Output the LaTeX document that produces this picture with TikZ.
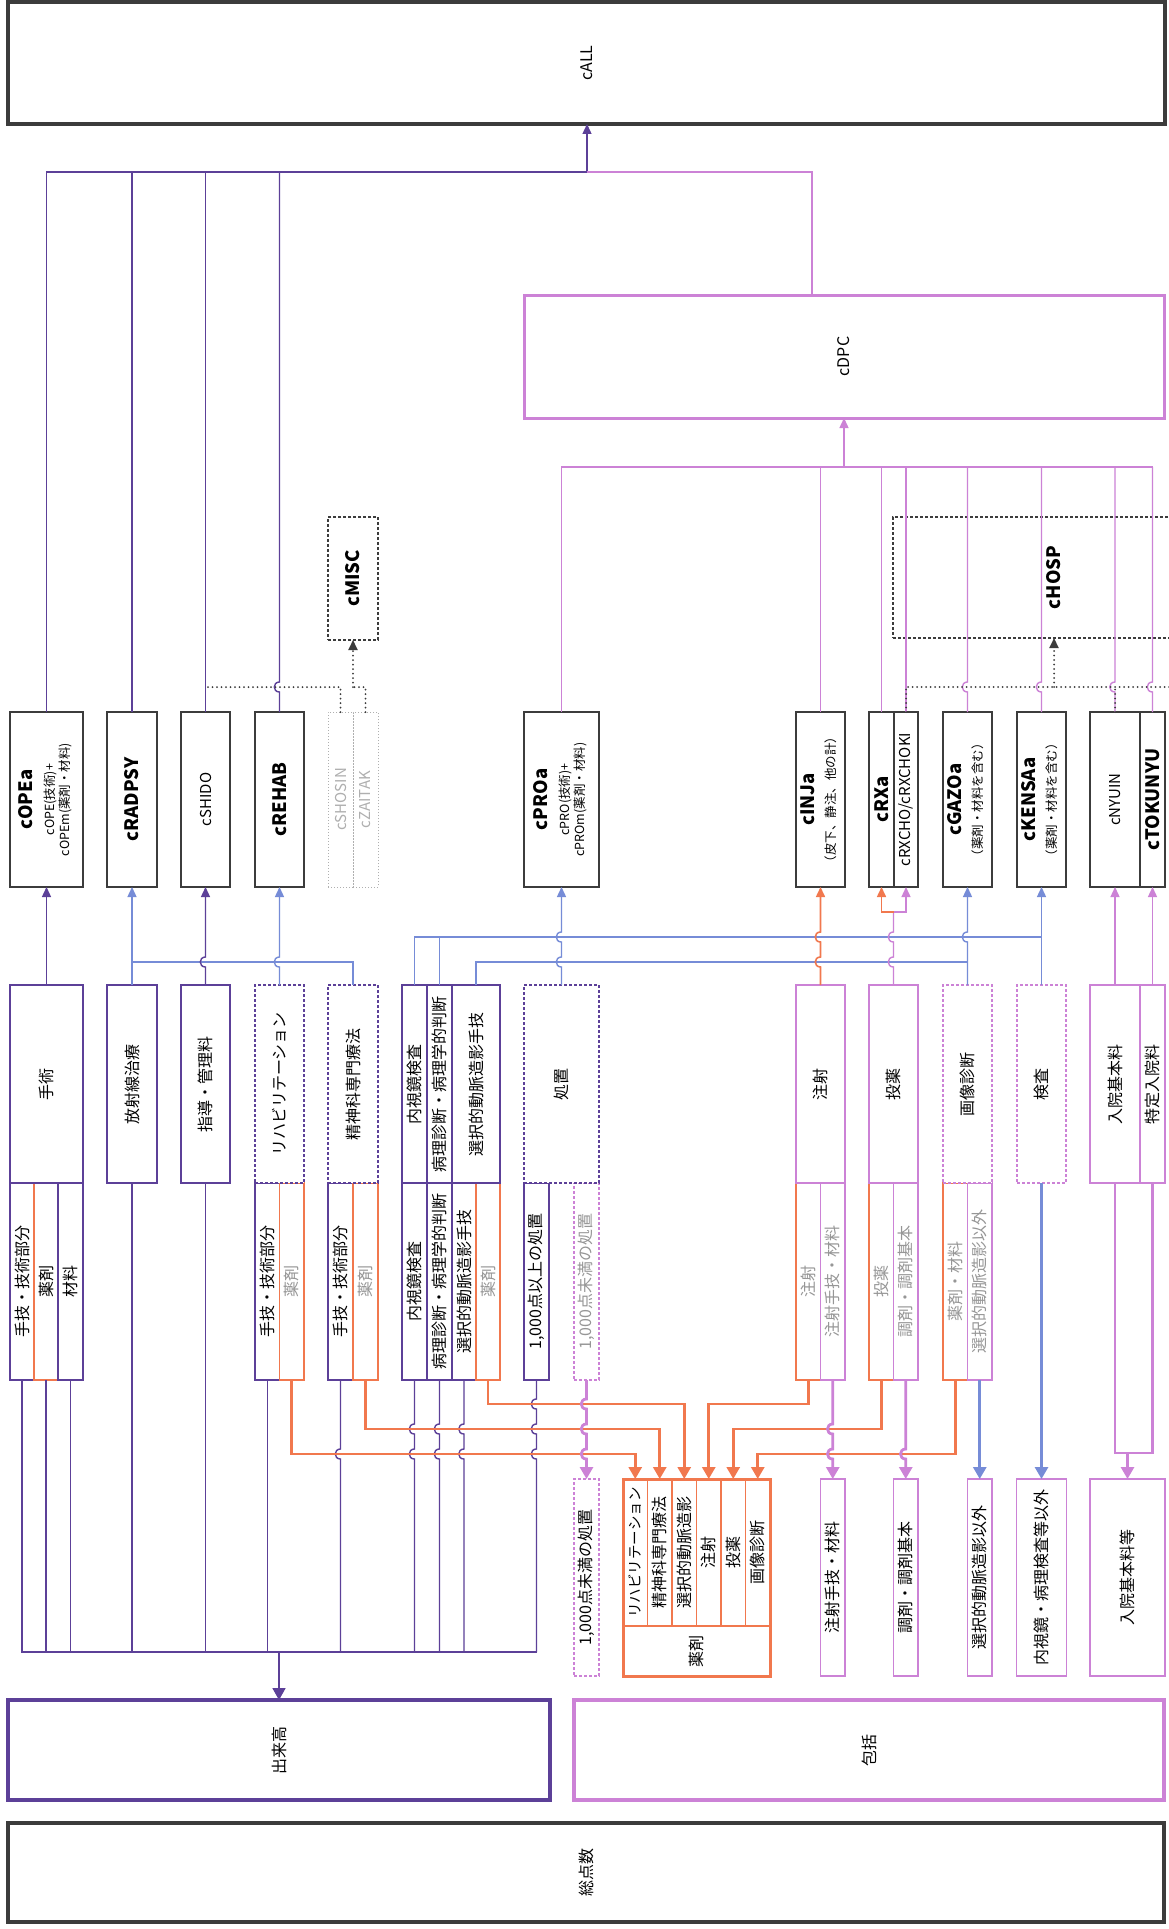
\documentclass[tikz,border=0pt]{standalone}
\usepackage{fontspec}
\setmainfont{Noto Sans CJK JP}
\usepackage{graphicx}
\usetikzlibrary{arrows.meta, positioning}

\definecolor{purp}{RGB}{92,64,152}
\definecolor{bluec}{RGB}{118,140,215}
\definecolor{pinkc}{RGB}{204,130,214}
\definecolor{orangec}{RGB}{241,120,78}
\definecolor{darkc}{RGB}{60,60,60}
\definecolor{greytxt}{RGB}{150,150,150}
\definecolor{dotgrey}{RGB}{175,175,175}

\newcommand\fbig{\fontsize{18.5}{21}\selectfont\bfseries}
\newcommand\fname{\fontsize{15}{18}\selectfont}
\newcommand\fnorm{\fontsize{16}{19}\selectfont}
\newcommand\fsmall{\fontsize{12.5}{14.5}\selectfont}
\newcommand\vtext[1]{\rotatebox{90}{#1}}
\newcommand\vstack[1]{\rotatebox{90}{\begin{tabular}{@{}c@{}}#1\end{tabular}}}
% hops of a vertical line over a horizontal one
\newcommand\hopup[2]{-- ({#1},{#2+5}) .. controls ({#1-7},{#2+5}) and ({#1-7},{#2-5}) .. ({#1},{#2-5})}
\newcommand\hopdn[2]{-- ({#1},{#2-5}) .. controls ({#1-7},{#2-5}) and ({#1-7},{#2+5}) .. ({#1},{#2+5})}

\tikzset{
  every node/.style={inner sep=0pt, outer sep=0pt},
  sz/.style 2 args={minimum width=#1pt, minimum height=#2pt},
  cbold/.style={draw=darkc, line width=2pt, fill=white, font=\fname},
  cthin/.style={draw=darkc, line width=1.1pt, fill=white, font=\fname},
  cdot/.style={draw=dotgrey, dotted, line width=1pt, text=dotgrey, font=\fname},
  cdash/.style={draw=darkc, dash pattern=on 3pt off 2pt, line width=1.5pt, font=\fbig},
  pbox/.style={draw=purp, line width=1.4pt, fill=white, font=\fnorm},
  pdash/.style={pbox, dash pattern=on 3pt off 2pt},
  kbox/.style={draw=pinkc, line width=1.4pt, fill=white, font=\fnorm},
  kdash/.style={kbox, dash pattern=on 3pt off 2pt},
  obox/.style={draw=orangec, line width=1.4pt, fill=white, font=\fnorm},
  greytext/.style={text=greytxt},
  bigbox/.style={line width=3.5pt, fill=white, font=\fnorm},
  pline/.style={draw=purp, line width=1.4pt},
  bline/.style={draw=bluec, line width=1.4pt},
  kline/.style={draw=pinkc, line width=1.4pt},
  othin/.style={draw=orangec, line width=1.6pt},
  oline/.style={draw=orangec, line width=2.8pt},
  kthick/.style={draw=pinkc, line width=2.8pt},
  bthick/.style={draw=bluec, line width=2.8pt},
  dline/.style={draw=darkc, line width=2pt, line cap=round, dash pattern=on 0pt off 4.5pt},
  arr/.style={-{Triangle[length=10pt, width=9pt]}},
  bigarr/.style={-{Triangle[length=12pt, width=13pt]}}
}

\begin{document}
\begin{tikzpicture}[x=1pt, y=-1pt]
\path[use as bounding box, fill=white] (0,0) rectangle (1169,1929);

% top totals
\node[bigbox, draw=darkc, sz={1157}{122}] (cALL) at (586.5,63) {\vtext{cALL}};
\node[bigbox, draw=pinkc, line width=3pt, sz={640}{123}] (cDPC) at (844,356.5) {\vtext{cDPC}};

% groups
\node[cdash, sz={50}{123}] (cMISC) at (353,578.5) {\vtext{cMISC}};
\node[cdash, sz={322}{121}] (cHOSP) at (1054,577.5) {\vtext{cHOSP}};

% variables
\node[cbold, sz={73}{175}] (cOPEa) at (46.5,799.5) {\vstack{{\fbig cOPEa}\\[4pt]{\fsmall cOPE(技術)+}\\[-3pt]{\fsmall cOPEm(薬剤・材料)}}};
\node[cbold, sz={50}{175}] (cRADPSY) at (132,799.5) {\vtext{\fbig cRADPSY}};
\node[cthin, sz={49}{175}] (cSHIDO) at (205.5,799.5) {\vtext{cSHIDO}};
\node[cbold, sz={49}{175}] (cREHAB) at (279.5,799.5) {\vtext{\fbig cREHAB}};
\node[cdot, sz={25}{175}] (cSHOSIN) at (340.5,799.5) {\vtext{cSHOSIN}};
\node[cdot, sz={25}{175}] (cZAITAK) at (365.5,799.5) {\vtext{cZAITAK}};
\node[cbold, sz={75}{175}] (cPROa) at (561.5,799.5) {\vstack{{\fbig cPROa}\\[4pt]{\fsmall cPRO(技術)+}\\[-3pt]{\fsmall cPROm(薬剤・材料)}}};
\node[cbold, sz={49}{175}] (cINJa) at (820.5,799.5) {\vstack{{\fbig cINJa}\\[3pt]{\fsmall （皮下、静注、他の計）}}};
\node[cbold, sz={25}{175}] (cRXa) at (881.5,799.5) {\vtext{\fbig cRXa}};
\node[cthin, sz={24}{175}] (cRXCHO) at (906,799.5) {\vtext{cRXCHO/cRXCHOKI}};
\node[cbold, sz={49}{175}] (cGAZOa) at (967.5,799.5) {\vstack{{\fbig cGAZOa}\\[3pt]{\fsmall （薬剤・材料を含む）}}};
\node[cbold, sz={49}{175}] (cKENSAa) at (1041.5,799.5) {\vstack{{\fbig cKENSAa}\\[3pt]{\fsmall （薬剤・材料を含む）}}};
\node[cthin, sz={50}{175}] (cNYUIN) at (1115,799.5) {\vtext{cNYUIN}};
\node[cbold, sz={25}{175}] (cTOKUNYU) at (1152.5,799.5) {\vtext{\fbig cTOKUNYU}};

% lower split cells
\node[pbox, sz={24}{197}] (opeGi) at (22,1281.5) {\vtext{手技・技術部分}};
\node[obox, sz={24}{197}] (opeYaku) at (46,1281.5) {\vtext{薬剤}};
\node[pbox, sz={25}{197}] (opeZai) at (70.5,1281.5) {\vtext{材料}};
\node[pbox, sz={24.5}{197}] (rehaGi) at (267.25,1281.5) {\vtext{手技・技術部分}};
\node[obox, greytext, sz={24.5}{197}] (rehaYaku) at (291.75,1281.5) {\vtext{薬剤}};
\node[pbox, sz={25}{197}] (seiGi) at (340.5,1281.5) {\vtext{手技・技術部分}};
\node[obox, greytext, sz={25}{197}] (seiYaku) at (365.5,1281.5) {\vtext{薬剤}};
\node[pbox, sz={25}{197}] (naiKen) at (414.5,1281.5) {\vtext{内視鏡検査}};
\node[pbox, sz={25}{197}] (naiByo) at (439.5,1281.5) {\vtext{病理診断・病理学的判断}};
\node[pbox, sz={24}{197}] (naiSen) at (464,1281.5) {\vtext{選択的動脈造影手技}};
\node[obox, greytext, sz={24}{197}] (naiYaku) at (488,1281.5) {\vtext{薬剤}};
\node[pbox, sz={25}{197}] (sho1000) at (536.5,1281.5) {\vtext{1,000点以上の処置}};
\node[kdash, greytext, sz={25}{197}] (shoLess) at (586.5,1281.5) {\vtext{1,000点未満の処置}};
\node[obox, greytext, sz={24.5}{197}] (chuYaku) at (808.25,1281.5) {\vtext{注射}};
\node[kbox, greytext, sz={24.5}{197}] (chuGi) at (832.75,1281.5) {\vtext{注射手技・材料}};
\node[obox, greytext, sz={24.5}{197}] (toYaku) at (881.25,1281.5) {\vtext{投薬}};
\node[kbox, greytext, sz={24.5}{197}] (toCho) at (905.75,1281.5) {\vtext{調剤・調剤基本}};
\node[obox, greytext, sz={24.5}{197}] (gaYaku) at (955.25,1281.5) {\vtext{薬剤・材料}};
\node[kbox, greytext, sz={24.5}{197}] (gaSen) at (979.75,1281.5) {\vtext{選択的動脈造影以外}};

% claim items
\node[pbox, sz={73}{198}] (shujutsu) at (46.5,1084) {\vtext{手術}};
\node[pbox, sz={50}{198}] (hoshasen) at (132,1084) {\vtext{放射線治療}};
\node[pbox, sz={49}{198}] (shido) at (205.5,1084) {\vtext{指導・管理料}};
\node[pdash, sz={49}{198}] (rihabiri) at (279.5,1084) {\vtext{リハビリテーション}};
\node[pdash, sz={50}{198}] (seishin) at (353,1084) {\vtext{精神科専門療法}};
\node[pbox, sz={25}{198}] (naishikyo) at (414.5,1084) {\vtext{内視鏡検査}};
\node[pbox, sz={25}{198}] (byori) at (439.5,1084) {\vtext{病理診断・病理学的判断}};
\node[pbox, sz={48}{198}] (sentaku) at (476,1084) {\vtext{選択的動脈造影手技}};
\node[pdash, sz={75}{198}] (shochi) at (561.5,1084) {\vtext{処置}};
\node[kbox, sz={49}{198}] (chusha) at (820.5,1084) {\vtext{注射}};
\node[kbox, sz={49}{198}] (toyaku) at (893.5,1084) {\vtext{投薬}};
\node[kdash, sz={49}{198}] (gazo) at (967.5,1084) {\vtext{画像診断}};
\node[kdash, sz={49}{198}] (kensa) at (1041.5,1084) {\vtext{検査}};
\node[kbox, sz={50}{198}] (nyuin) at (1115,1084) {\vtext{入院基本料}};
\node[kbox, sz={25}{198}] (tokutei) at (1152.5,1084) {\vtext{特定入院料}};

% bottom row
\node[kdash, sz={25}{197}] (bShochi) at (586.5,1577.5) {\vtext{1,000点未満の処置}};
\node[obox, sz={24.5}{147}] (yReha) at (635.25,1552.5) {\vtext{\fontsize{14.5}{17}\selectfont リハビリテーション}};
\node[obox, sz={24.5}{147}] (ySeishin) at (659.75,1552.5) {\vtext{精神科専門療法}};
\node[obox, sz={24.5}{147}] (ySentaku) at (684.25,1552.5) {\vtext{選択的動脈造影}};
\node[obox, sz={24.5}{147}] (yChusha) at (708.75,1552.5) {\vtext{注射}};
\node[obox, sz={24.5}{147}] (yToyaku) at (733.25,1552.5) {\vtext{投薬}};
\node[obox, sz={24.5}{147}] (yGazo) at (757.75,1552.5) {\vtext{画像診断}};
\node[obox, sz={147}{50}] (yYaku) at (696.5,1651) {\vtext{薬剤}};
\draw[orangec, line width=3pt] (yReha.north west) rectangle (yYaku.south east);
\node[kbox, sz={24.5}{197}] (bChuGi) at (832.75,1577.5) {\vtext{注射手技・材料}};
\node[kbox, sz={24.5}{197}] (bCho) at (905.75,1577.5) {\vtext{調剤・調剤基本}};
\node[kbox, sz={24.5}{197}] (bSen) at (979.75,1577.5) {\vtext{選択的動脈造影以外}};
\node[kbox, sz={50}{197}] (bKen) at (1041.5,1577.5) {\vtext{内視鏡・病理検査等以外}};
\node[kbox, sz={75}{197}] (bNyuin) at (1127.5,1577.5) {\vtext{入院基本料等}};

% bottom totals
\node[bigbox, draw=purp, line width=4pt, sz={542}{100}] (dekidaka) at (279,1750) {\vtext{出来高}};
\node[bigbox, draw=pinkc, line width=3.5pt, sz={590}{100}] (hokatsu) at (869,1750) {\vtext{包括}};
\node[bigbox, draw=darkc, sz={1156}{99}] (soten) at (586,1872.5) {\vtext{総点数}};

% junctions
\coordinate (topj) at (587,172);
\coordinate (dpcj) at (844,467);
\coordinate (miscj) at (353,687);
\coordinate (hospj) at (1054,687);
\coordinate (rxj) at (893.5,912);
\coordinate (dekij) at (279,1652);

% into cALL
\draw[pline] (cOPEa.north) |- (topj);
\draw[pline] (cRADPSY.north) -- (cRADPSY.north |- topj);
\draw[pline] (cSHIDO.north) -- (cSHIDO.north |- topj);
\draw[pline] (cREHAB.north) \hopup{279.5}{687} -- (cREHAB.north |- topj);
\draw[pline, arr] (topj) -- (topj |- cALL.south);
\draw[kline] (812,0 |- cDPC.north) |- (topj);

% into cDPC
\draw[kline] (cPROa.north) |- (cTOKUNYU.north |- dpcj);
\draw[kline] (cINJa.north) -- (cINJa.north |- dpcj);
\draw[kline] (cRXa.north) -- (cRXa.north |- dpcj);
\draw[kline] (cRXCHO.north) -- (cRXCHO.north |- dpcj);
\draw[kline] (cGAZOa.north) \hopup{967.5}{687} -- (cGAZOa.north |- dpcj);
\draw[kline] (cKENSAa.north) \hopup{1041.5}{687} -- (cKENSAa.north |- dpcj);
\draw[kline] (cNYUIN.north) \hopup{1115}{687} -- (cNYUIN.north |- dpcj);
\draw[kline] (cTOKUNYU.north) \hopup{1152.5}{687} -- (cTOKUNYU.north |- dpcj);
\draw[kline, arr] (dpcj) -- (cDPC.south);

% dotted groups
\draw[dline] (cSHOSIN.north) |- (cSHIDO.north |- miscj);
\draw[dline] (cZAITAK.north) |- (miscj);
\draw[dline, arr] (miscj) -- (cMISC.south);
\draw[dline] (cRXCHO.north) |- (1180,687);
\draw[dline] (cNYUIN.north) -- (cNYUIN.north |- hospj);
\draw[dline, arr] (hospj) -- (cHOSP.south);

% items to variables
\draw[pline, arr] (shujutsu.north) -- (cOPEa.south);
\draw[bline, arr] (hoshasen.north) -- (cRADPSY.south);
\draw[bline] (seishin.north) |- (hoshasen.north |- 0,962);
\draw[pline, arr] (shido.north) \hopup{205.5}{962} -- (cSHIDO.south);
\draw[bline, arr] (rihabiri.north) \hopup{279.5}{962} -- (cREHAB.south);
\draw[bline] (naishikyo.north) |- (kensa.north |- 0,937);
\draw[bline] (byori.north) -- (byori.north |- 0,937);
\draw[bline] (sentaku.north) |- (gazo.north |- 0,962);
\draw[bline, arr] (shochi.north) \hopup{561.5}{962} \hopup{561.5}{937} -- (cPROa.south);
\draw[othin, arr] (chusha.north) \hopup{820.5}{962} \hopup{820.5}{937} -- (cINJa.south);
\draw[kline] (toyaku.north) \hopup{893.5}{962} \hopup{893.5}{937} -- (rxj);
\draw[othin, arr] (rxj) -| (cRXa.south);
\draw[kline, arr] (rxj) -| (cRXCHO.south);
\draw[bline, arr] (gazo.north) \hopup{967.5}{937} -- (cGAZOa.south);
\draw[bline, arr] (kensa.north) -- (cKENSAa.south);
\draw[kline, arr] (nyuin.north) -- (cNYUIN.south);
\draw[kline, arr] (tokutei.north) -- (cTOKUNYU.south);

% fee-for-service
\draw[pline] (opeGi.south) |- (sho1000.south |- dekij);
\draw[pline] (opeYaku.south) -- (opeYaku.south |- dekij);
\draw[pline] (opeZai.south) -- (opeZai.south |- dekij);
\draw[pline] (hoshasen.south) -- (hoshasen.south |- dekij);
\draw[pline] (shido.south) -- (shido.south |- dekij);
\draw[pline] (rehaGi.south) -- (rehaGi.south |- dekij);
\draw[pline] (seiGi.south) \hopdn{340.5}{1454} -- (seiGi.south |- dekij);
\draw[pline] (naiKen.south) \hopdn{414.5}{1429} \hopdn{414.5}{1454} -- (naiKen.south |- dekij);
\draw[pline] (naiByo.south) \hopdn{439.5}{1429} \hopdn{439.5}{1454} -- (naiByo.south |- dekij);
\draw[pline] (naiSen.south) \hopdn{464}{1429} \hopdn{464}{1454} -- (naiSen.south |- dekij);
\draw[pline] (sho1000.south) \hopdn{536.5}{1404} \hopdn{536.5}{1429} \hopdn{536.5}{1454} -- (sho1000.south |- dekij);
\draw[pline, line width=1.8pt, bigarr] (dekij) -- (dekidaka.north);

% drugs
\draw[oline, bigarr] (rehaYaku.south) |- (yReha.north |- 0,1454) -- (yReha.north);
\draw[oline, bigarr] (seiYaku.south) |- (ySeishin.north |- 0,1429) -- (ySeishin.north);
\draw[oline, bigarr] (naiYaku.south) |- (ySentaku.north |- 0,1404) -- (ySentaku.north);
\draw[oline, bigarr] (chuYaku.south) |- (yChusha.north |- 0,1404) -- (yChusha.north);
\draw[oline, bigarr] (toYaku.south) |- (yToyaku.north |- 0,1429) -- (yToyaku.north);
\draw[oline, bigarr] (gaYaku.south) |- (yGazo.north |- 0,1454) -- (yGazo.north);

% bundled
\draw[kthick, bigarr] (shoLess.south) \hopdn{586.5}{1404} \hopdn{586.5}{1429} \hopdn{586.5}{1454} -- (bShochi.north);
\draw[kthick, bigarr] (chuGi.south) \hopdn{832.75}{1429} \hopdn{832.75}{1454} -- (bChuGi.north);
\draw[kthick, bigarr] (toCho.south) \hopdn{905.75}{1454} -- (bCho.north);
\draw[bthick, bigarr] (gaSen.south) -- (bSen.north);
\draw[bthick, bigarr] (kensa.south) -- (bKen.north);
\draw[kthick] (nyuin.south) |- (tokutei.south |- 0,1453) -- (tokutei.south);
\draw[kthick, bigarr] (bNyuin.north |- 0,1453) -- (bNyuin.north);
\end{tikzpicture}
\end{document}
